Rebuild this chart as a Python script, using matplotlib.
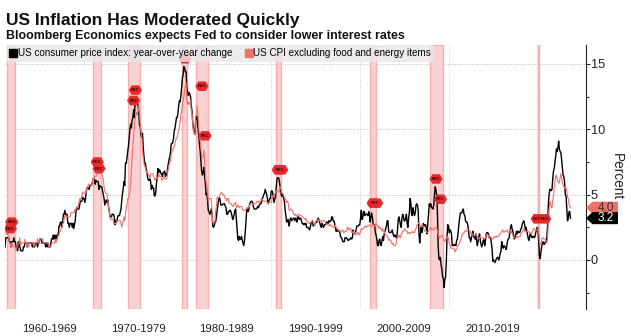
import matplotlib
matplotlib.use("Agg")
import matplotlib.pyplot as plt
import numpy as np
from matplotlib.lines import Line2D
from matplotlib.patches import Polygon
from matplotlib.path import Path

plt.rcParams['font.family'] = ['Liberation Sans', 'DejaVu Sans']

START_YEAR = 1960

# US CPI, year-over-year % change, monthly from Jan 1960
headline_cpi = [
    1.0, 1.7, 1.7, 1.7, 1.7, 1.7, 1.4, 1.4, 1.0, 1.4, 1.4, 1.4,   # 1960
    1.7, 1.4, 1.4, 1.0, 1.0, 0.7, 1.4, 1.0, 1.4, 0.7, 0.7, 0.7,   # 1961
    0.7, 1.0, 1.0, 1.3, 1.3, 1.3, 1.0, 1.3, 1.3, 1.3, 1.3, 1.3,   # 1962
    1.3, 1.0, 1.3, 1.0, 1.0, 1.3, 1.3, 1.3, 1.0, 1.3, 1.3, 1.6,   # 1963
    1.6, 1.6, 1.3, 1.3, 1.3, 1.3, 1.3, 1.0, 1.3, 1.0, 1.3, 1.0,   # 1964
    1.0, 1.0, 1.3, 1.6, 1.6, 1.9, 1.6, 1.9, 1.6, 1.9, 1.6, 1.9,   # 1965
    1.9, 2.6, 2.6, 2.9, 2.9, 2.5, 2.9, 3.5, 3.5, 3.8, 3.5, 3.5,   # 1966
    3.5, 2.8, 2.8, 2.5, 2.8, 2.8, 2.8, 2.5, 2.8, 2.4, 2.7, 3.0,   # 1967
    3.7, 4.0, 3.9, 3.9, 3.9, 4.2, 4.5, 4.5, 4.5, 4.8, 4.7, 4.7,   # 1968
    4.4, 4.7, 5.3, 5.5, 5.5, 5.5, 5.4, 5.7, 5.7, 5.7, 5.9, 6.2,   # 1969
    6.2, 6.2, 5.8, 6.1, 6.0, 6.0, 6.0, 5.4, 5.7, 5.6, 5.6, 5.6,   # 1970
    5.3, 5.0, 4.7, 4.2, 4.4, 4.6, 4.4, 4.6, 4.1, 3.8, 3.3, 3.3,   # 1971
    3.3, 3.5, 3.5, 3.5, 3.2, 2.7, 3.0, 2.9, 3.2, 3.4, 3.4, 3.4,   # 1972
    3.7, 3.9, 4.6, 5.1, 5.5, 6.0, 5.7, 7.4, 7.4, 7.8, 8.3, 8.7,   # 1973
    9.4, 10.0, 10.4, 10.1, 10.7, 10.9, 11.5, 10.9, 12.0, 12.1, 12.2, 12.3,  # 1974
    11.8, 11.2, 10.3, 10.2, 9.5, 9.4, 9.7, 8.6, 7.9, 7.4, 7.4, 6.9,  # 1975
    6.7, 6.3, 6.1, 6.1, 6.2, 6.0, 5.4, 5.7, 5.5, 5.5, 4.9, 4.9,   # 1976
    5.2, 5.9, 6.4, 7.0, 6.7, 6.9, 6.8, 6.6, 6.6, 6.4, 6.7, 6.7,   # 1977
    6.8, 6.4, 6.6, 6.5, 7.0, 7.4, 7.7, 7.9, 8.3, 8.9, 8.9, 9.0,   # 1978
    9.3, 9.9, 10.1, 10.5, 10.9, 10.9, 11.3, 11.8, 12.2, 12.1, 12.6, 13.3,  # 1979
    13.9, 14.2, 14.8, 14.7, 14.4, 14.4, 13.1, 12.9, 12.6, 12.8, 12.7, 12.5,  # 1980
    11.8, 11.4, 10.5, 10.0, 9.8, 9.6, 10.8, 10.8, 11.0, 10.1, 9.6, 8.9,  # 1981
    8.4, 7.6, 6.8, 6.5, 6.7, 7.1, 6.4, 5.9, 5.0, 5.1, 4.6, 3.8,   # 1982
    3.7, 3.5, 3.6, 3.9, 3.6, 2.6, 2.5, 2.6, 2.9, 2.9, 3.3, 3.8,   # 1983
    4.2, 4.6, 4.8, 4.6, 4.2, 4.2, 4.2, 4.3, 4.3, 4.3, 4.1, 4.0,   # 1984
    3.5, 3.5, 3.7, 3.7, 3.8, 3.8, 3.6, 3.4, 3.1, 3.2, 3.5, 3.8,   # 1985
    3.9, 3.1, 2.3, 1.6, 1.5, 1.8, 1.6, 1.6, 1.8, 1.5, 1.3, 1.1,   # 1986
    1.5, 2.1, 3.0, 3.8, 3.9, 3.7, 3.9, 4.3, 4.4, 4.5, 4.5, 4.4,   # 1987
    4.1, 3.9, 3.9, 3.9, 3.9, 4.0, 4.1, 4.0, 4.2, 4.3, 4.3, 4.4,   # 1988
    4.7, 4.8, 5.0, 5.1, 5.4, 5.2, 5.0, 4.7, 4.3, 4.5, 4.7, 4.7,   # 1989
    5.2, 5.3, 5.2, 4.7, 4.4, 4.7, 4.8, 5.6, 6.2, 6.3, 6.3, 6.1,   # 1990
    5.7, 5.3, 4.9, 4.9, 5.0, 4.7, 4.5, 3.8, 3.4, 2.9, 3.0, 3.1,   # 1991
    2.6, 2.8, 3.2, 3.2, 3.0, 3.1, 3.2, 3.2, 3.0, 3.2, 3.1, 2.9,   # 1992
    3.3, 3.3, 3.1, 3.2, 3.2, 3.0, 2.8, 2.8, 2.7, 2.8, 2.7, 2.8,   # 1993
    2.5, 2.5, 2.5, 2.4, 2.3, 2.5, 2.8, 2.9, 3.0, 2.6, 2.7, 2.7,   # 1994
    2.8, 2.9, 2.9, 3.1, 3.2, 3.0, 2.8, 2.6, 2.5, 2.8, 2.6, 2.5,   # 1995
    2.7, 2.7, 2.8, 2.9, 2.9, 2.8, 3.0, 2.9, 3.0, 3.0, 3.3, 3.3,   # 1996
    3.0, 3.0, 2.8, 2.5, 2.2, 2.3, 2.2, 2.2, 2.2, 2.1, 1.8, 1.7,   # 1997
    1.6, 1.4, 1.4, 1.4, 1.7, 1.7, 1.7, 1.6, 1.5, 1.5, 1.6, 1.6,   # 1998
    1.7, 1.6, 1.7, 2.3, 2.1, 2.0, 2.1, 2.3, 2.6, 2.6, 2.6, 2.7,   # 1999
    2.7, 3.2, 3.8, 3.1, 3.2, 3.7, 3.7, 3.4, 3.5, 3.5, 3.5, 3.4,   # 2000
    3.7, 3.5, 2.9, 3.3, 3.6, 3.3, 2.7, 2.7, 2.7, 2.1, 1.9, 1.6,   # 2001
    1.1, 1.1, 1.5, 1.6, 1.2, 1.1, 1.5, 1.8, 1.5, 2.0, 2.2, 2.4,   # 2002
    2.6, 3.0, 3.0, 2.2, 2.1, 2.1, 2.1, 2.2, 2.3, 2.0, 1.8, 1.9,   # 2003
    1.9, 1.7, 1.7, 2.3, 3.1, 3.3, 3.0, 2.7, 2.5, 3.2, 3.5, 3.3,   # 2004
    3.0, 3.0, 3.2, 3.5, 2.8, 2.5, 3.2, 3.6, 4.7, 4.4, 3.5, 3.4,   # 2005
    4.0, 3.6, 3.4, 3.6, 4.2, 4.3, 4.2, 3.8, 2.1, 1.3, 2.0, 2.5,   # 2006
    2.1, 2.4, 2.8, 2.6, 2.7, 2.7, 2.4, 2.0, 2.8, 3.5, 4.3, 4.1,   # 2007
    4.3, 4.0, 4.0, 3.9, 4.2, 5.0, 5.6, 5.4, 4.9, 3.7, 1.1, 0.1,   # 2008
    0.0, 0.2, -0.4, -0.7, -1.3, -1.4, -2.1, -1.5, -1.3, -0.2, 1.8, 2.7,  # 2009
    2.6, 2.1, 2.3, 2.2, 2.0, 1.1, 1.2, 1.1, 1.1, 1.2, 1.1, 1.5,   # 2010
    1.6, 2.1, 2.7, 3.2, 3.6, 3.6, 3.6, 3.8, 3.9, 3.5, 3.4, 3.0,   # 2011
    2.9, 2.9, 2.7, 2.3, 1.7, 1.7, 1.4, 1.7, 2.0, 2.2, 1.8, 1.7,   # 2012
    1.6, 2.0, 1.5, 1.1, 1.4, 1.8, 2.0, 1.5, 1.2, 1.0, 1.2, 1.5,   # 2013
    1.6, 1.1, 1.5, 2.0, 2.1, 2.1, 2.0, 1.7, 1.7, 1.7, 1.3, 0.8,   # 2014
    -0.1, 0.0, -0.1, -0.2, 0.0, 0.1, 0.2, 0.2, 0.0, 0.2, 0.5, 0.7,  # 2015
    1.4, 1.0, 0.9, 1.1, 1.0, 1.0, 0.8, 1.1, 1.5, 1.6, 1.7, 2.1,   # 2016
    2.5, 2.7, 2.4, 2.2, 1.9, 1.6, 1.7, 1.9, 2.2, 2.0, 2.2, 2.1,   # 2017
    2.1, 2.2, 2.4, 2.5, 2.8, 2.9, 3.0, 2.7, 2.3, 2.5, 2.2, 1.9,   # 2018
    1.6, 1.5, 1.9, 2.0, 1.8, 1.7, 1.8, 1.8, 1.7, 1.8, 2.1, 2.3,   # 2019
    2.5, 2.3, 1.5, 0.3, 0.1, 0.6, 1.0, 1.3, 1.4, 1.2, 1.2, 1.4,   # 2020
    1.4, 1.7, 2.6, 4.2, 5.0, 5.4, 5.4, 5.3, 5.4, 6.2, 6.8, 7.0,   # 2021
    7.5, 7.9, 8.5, 8.3, 8.6, 9.1, 8.5, 8.3, 8.2, 7.7, 7.1, 6.5,   # 2022
    6.4, 6.0, 5.0, 4.9, 4.0, 3.0, 3.2, 3.7, 3.7, 3.2,             # 2023
]

# US CPI excluding food and energy, year-over-year % change, monthly from Jan 1960
core_cpi = [
    2.0, 2.0, 2.0, 2.0, 2.0, 1.7, 1.3, 1.3, 1.0, 1.3, 1.3, 1.0,   # 1960
    1.0, 1.0, 1.0, 0.7, 1.0, 1.0, 1.3, 1.3, 1.7, 1.0, 1.3, 1.3,   # 1961
    1.3, 1.3, 1.3, 1.6, 1.3, 1.3, 1.0, 1.3, 1.0, 1.3, 1.3, 1.3,   # 1962
    1.3, 1.3, 1.3, 1.0, 1.3, 1.3, 1.3, 1.3, 1.6, 1.3, 1.3, 1.6,   # 1963
    1.6, 1.6, 1.6, 1.6, 1.3, 1.3, 1.3, 1.3, 1.3, 1.3, 1.3, 1.0,   # 1964
    1.0, 1.0, 1.0, 1.3, 1.3, 1.3, 1.3, 1.3, 1.6, 1.3, 1.6, 1.6,   # 1965
    1.9, 1.9, 2.2, 2.2, 2.5, 2.5, 2.8, 2.8, 3.1, 3.4, 3.4, 3.3,   # 1966
    3.3, 3.3, 3.3, 3.3, 3.3, 3.6, 3.6, 3.6, 3.6, 3.6, 3.8, 3.9,   # 1967
    3.9, 3.9, 4.1, 4.1, 4.4, 4.7, 4.7, 4.6, 4.9, 5.2, 5.1, 5.1,   # 1968
    5.1, 5.1, 5.3, 5.6, 5.6, 5.8, 5.8, 5.8, 5.7, 5.7, 5.9, 6.2,   # 1969
    6.1, 6.4, 6.4, 6.4, 6.6, 6.6, 6.6, 6.6, 6.9, 6.8, 6.6, 6.6,   # 1970
    6.4, 6.1, 5.6, 5.3, 5.1, 5.1, 5.1, 4.6, 4.1, 3.8, 3.3, 3.1,   # 1971
    3.1, 3.1, 3.1, 2.8, 2.8, 2.8, 2.8, 3.0, 3.0, 3.0, 3.0, 3.0,   # 1972
    3.0, 2.8, 2.5, 2.8, 3.0, 3.3, 3.0, 3.5, 4.0, 4.2, 4.7, 4.7,   # 1973
    5.0, 5.3, 5.9, 7.0, 7.9, 8.7, 9.5, 10.2, 10.8, 11.1, 11.3, 11.1,  # 1974
    11.4, 11.8, 11.3, 10.3, 9.8, 9.4, 8.5, 7.8, 7.4, 7.2, 7.0, 6.7,  # 1975
    6.8, 6.7, 6.5, 6.5, 6.3, 6.5, 6.6, 6.6, 6.6, 6.4, 6.3, 6.1,   # 1976
    6.2, 6.3, 6.3, 6.3, 6.6, 6.4, 6.4, 6.4, 6.1, 6.1, 6.3, 6.4,   # 1977
    6.2, 6.2, 6.2, 6.2, 6.7, 7.0, 7.3, 7.4, 7.6, 8.1, 8.3, 8.5,   # 1978
    8.5, 8.7, 8.9, 9.2, 9.3, 9.4, 9.7, 9.9, 10.2, 10.6, 11.2, 11.3,  # 1979
    12.0, 12.1, 12.5, 13.0, 13.3, 13.6, 12.2, 11.9, 12.1, 11.9, 12.0, 12.2,  # 1980
    11.4, 11.2, 10.5, 9.8, 9.6, 9.6, 11.0, 11.2, 11.8, 11.0, 10.2, 9.5,  # 1981
    9.2, 8.6, 7.9, 7.8, 7.9, 8.4, 7.6, 6.9, 5.9, 5.8, 5.3, 4.5,   # 1982
    4.7, 4.7, 4.7, 4.7, 3.9, 2.9, 2.8, 2.9, 2.9, 3.8, 4.1, 4.8,   # 1983
    4.7, 4.8, 4.8, 5.0, 5.1, 5.2, 5.0, 5.0, 5.0, 4.8, 4.7, 4.7,   # 1984
    4.5, 4.7, 4.7, 4.4, 4.4, 4.3, 4.3, 4.2, 4.1, 4.1, 4.3, 4.3,   # 1985
    4.4, 4.0, 4.1, 4.2, 4.1, 4.0, 4.1, 4.1, 4.1, 3.9, 3.8, 3.8,   # 1986
    3.8, 3.8, 3.9, 4.0, 4.0, 4.0, 4.0, 4.2, 4.3, 4.3, 4.3, 4.2,   # 1987
    4.3, 4.3, 4.3, 4.3, 4.4, 4.5, 4.5, 4.4, 4.5, 4.4, 4.5, 4.7,   # 1988
    4.6, 4.6, 4.5, 4.5, 4.5, 4.5, 4.5, 4.3, 4.3, 4.4, 4.4, 4.4,   # 1989
    4.4, 4.6, 4.9, 4.9, 4.8, 5.0, 5.2, 5.3, 5.3, 5.3, 5.2, 5.2,   # 1990
    5.6, 5.6, 5.2, 5.1, 5.1, 4.9, 4.8, 4.7, 4.6, 4.4, 4.5, 4.4,   # 1991
    3.9, 3.8, 3.9, 3.9, 3.8, 3.8, 3.6, 3.5, 3.4, 3.5, 3.4, 3.3,   # 1992
    3.5, 3.5, 3.4, 3.4, 3.4, 3.4, 3.3, 3.3, 3.2, 3.2, 3.1, 3.2,   # 1993
    3.0, 2.9, 2.9, 2.8, 2.8, 2.9, 2.9, 2.9, 3.0, 2.9, 2.8, 2.6,   # 1994
    2.9, 3.0, 3.0, 3.0, 3.1, 3.0, 3.0, 3.0, 2.9, 3.0, 3.0, 3.0,   # 1995
    3.0, 2.9, 2.8, 2.7, 2.7, 2.7, 2.7, 2.6, 2.7, 2.6, 2.6, 2.6,   # 1996
    2.5, 2.5, 2.5, 2.7, 2.5, 2.4, 2.4, 2.3, 2.2, 2.3, 2.2, 2.2,   # 1997
    2.2, 2.3, 2.1, 2.1, 2.2, 2.2, 2.2, 2.5, 2.5, 2.3, 2.3, 2.4,   # 1998
    2.4, 2.1, 2.1, 2.2, 2.0, 2.1, 2.1, 1.9, 2.0, 2.1, 2.1, 1.9,   # 1999
    2.0, 2.2, 2.4, 2.3, 2.4, 2.4, 2.5, 2.6, 2.6, 2.5, 2.6, 2.6,   # 2000
    2.6, 2.7, 2.7, 2.6, 2.5, 2.7, 2.7, 2.7, 2.6, 2.6, 2.8, 2.7,   # 2001
    2.6, 2.6, 2.4, 2.5, 2.5, 2.3, 2.2, 2.4, 2.2, 2.2, 2.0, 1.9,   # 2002
    1.9, 1.8, 1.7, 1.5, 1.6, 1.5, 1.5, 1.3, 1.2, 1.3, 1.1, 1.1,   # 2003
    1.1, 1.2, 1.6, 1.8, 1.7, 1.9, 1.8, 1.7, 2.0, 2.0, 2.2, 2.2,   # 2004
    2.3, 2.4, 2.3, 2.2, 2.2, 2.0, 2.1, 2.1, 2.0, 2.1, 2.1, 2.2,   # 2005
    2.1, 2.1, 2.1, 2.3, 2.4, 2.6, 2.7, 2.8, 2.9, 2.7, 2.6, 2.6,   # 2006
    2.7, 2.7, 2.5, 2.3, 2.2, 2.2, 2.2, 2.1, 2.1, 2.2, 2.3, 2.4,   # 2007
    2.5, 2.3, 2.4, 2.3, 2.3, 2.4, 2.5, 2.5, 2.5, 2.2, 2.0, 1.8,   # 2008
    1.7, 1.8, 1.8, 1.9, 1.8, 1.7, 1.5, 1.4, 1.5, 1.7, 1.7, 1.8,   # 2009
    1.6, 1.3, 1.1, 0.9, 0.9, 0.9, 0.9, 0.9, 0.8, 0.6, 0.8, 0.8,   # 2010
    1.0, 1.1, 1.2, 1.3, 1.5, 1.6, 1.8, 2.0, 2.0, 2.1, 2.2, 2.2,   # 2011
    2.3, 2.2, 2.3, 2.3, 2.3, 2.2, 2.1, 1.9, 2.0, 2.0, 1.9, 1.9,   # 2012
    1.9, 2.0, 1.9, 1.7, 1.7, 1.6, 1.7, 1.8, 1.7, 1.7, 1.7, 1.7,   # 2013
    1.6, 1.6, 1.7, 1.8, 2.0, 1.9, 1.9, 1.7, 1.7, 1.8, 1.7, 1.6,   # 2014
    1.6, 1.7, 1.8, 1.8, 1.7, 1.8, 1.8, 1.8, 1.9, 1.9, 2.0, 2.1,   # 2015
    2.2, 2.3, 2.2, 2.1, 2.2, 2.2, 2.2, 2.3, 2.2, 2.1, 2.1, 2.2,   # 2016
    2.3, 2.2, 2.0, 1.9, 1.7, 1.7, 1.7, 1.7, 1.7, 1.8, 1.7, 1.8,   # 2017
    1.8, 1.8, 2.1, 2.1, 2.2, 2.3, 2.4, 2.2, 2.2, 2.1, 2.2, 2.2,   # 2018
    2.2, 2.1, 2.0, 2.1, 2.0, 2.1, 2.2, 2.4, 2.4, 2.3, 2.3, 2.3,   # 2019
    2.3, 2.4, 2.1, 1.4, 1.2, 1.2, 1.6, 1.7, 1.7, 1.6, 1.6, 1.6,   # 2020
    1.4, 1.3, 1.6, 3.0, 3.8, 4.5, 4.3, 4.0, 4.0, 4.6, 4.9, 5.5,   # 2021
    6.0, 6.4, 6.5, 6.2, 6.0, 5.9, 5.9, 6.3, 6.6, 6.3, 6.0, 5.7,   # 2022
    5.6, 5.5, 5.6, 5.5, 5.3, 4.8, 4.7, 4.3, 4.1, 4.0,             # 2023
]

# NBER recessions (start, end) as decimal years
recession_periods = [
    (1960.25, 1961.08), (1969.92, 1970.83), (1973.83, 1975.17),
    (1980.0, 1980.5), (1981.5, 1982.83), (1990.5, 1991.17),
    (2001.17, 2001.83), (2007.92, 2009.42), (2020.08, 2020.25),
]

# "REC" event flags: each group of dates shares one level and one label
rec_flag_dates = [(1960.75,), (1960.6,), (1970.4,), (1970.6,), (1974.7,), (1974.5,),
                  (1980.3,), (1982.2,), (1982.55,), (1990.8, 1991.2),
                  (2001.5, 2001.9), (2008.6,), (2009.1,), (2020.0,), (2020.85,)]
rec_flag_levels = [2.9, 2.4, 7.5, 7.0, 13.0, 12.2,
                   15.4, 13.3, 9.5, 6.9,
                   4.35, 6.2, 4.65, 3.15, 3.15]

decade_labels = ["1960-1969", "1970-1979", "1980-1989", "1990-1999",
                 "2000-2009", "2010-2019"]
series_names = ["US consumer price index: year-over-year change",
                "US CPI excluding food and energy items"]

BLACK = "#000000"
SALMON = "#f0706b"
REC_RED = "#e8282b"

W, H = 631, 336
fig = plt.figure(figsize=(W / 100, H / 100), dpi=100)
ax = fig.add_axes([5 / W, 27 / H, 581 / W, 264 / H])

t_head = START_YEAR + np.arange(len(headline_cpi)) / 12.0
t_core = START_YEAR + np.arange(len(core_cpi)) / 12.0

for a, b in recession_periods:
    ax.axvspan(a, b, facecolor="#fbd0d0", edgecolor="#f5b0b0", lw=1.0, zorder=1)

ax.plot(t_head, headline_cpi, color=BLACK, lw=1.0, zorder=3)
ax.plot(t_core, core_cpi, color=SALMON, lw=0.8, zorder=4)

ax.set_xlim(1960.0, 2025.5)
ax.set_ylim(-3.75, 16.45)

# legend (semi-transparent, drawn above the flags)
handles = [Line2D([], [], ls="none", marker="s", ms=5.5, color=BLACK),
           Line2D([], [], ls="none", marker="s", ms=5.5, color=SALMON)]
leg = ax.legend(handles, series_names, loc="upper left", bbox_to_anchor=(0.003, 1.0),
                ncol=2, fontsize=7.1, frameon=True, fancybox=False,
                facecolor="#e8e8e8", edgecolor="none", framealpha=0.82,
                borderpad=0.35, handlelength=0.6, handletextpad=0.15,
                columnspacing=1.4, borderaxespad=0.0)
leg.set_zorder(10)

# event flags; a label is only written when the flag sits below the legend box
fig.canvas.draw()
leg_bottom = ax.transData.inverted().transform(
    (0, leg.get_window_extent().y0))[1]
hexv = [(-1, 0), (-0.55, 0.72), (0.55, 0.72), (1, 0), (0.55, -0.72), (-0.55, -0.72), (-1, 0)]
hex_marker = Path(hexv)
for dates, v in zip(rec_flag_dates, rec_flag_levels):
    ax.scatter(dates, [v] * len(dates), marker=hex_marker, s=9.5 ** 2,
               color=REC_RED, edgecolors="none", zorder=5)
    if v + 0.35 < leg_bottom:
        ax.text(float(np.mean(dates)), v, "REC", fontsize=3.0, fontweight="bold",
                color="#2a0000", ha="center", va="center", zorder=6)

# axes styling
for s in ("left", "top", "bottom"):
    ax.spines[s].set_visible(False)
ax.spines["right"].set_color("#222222")
ax.spines["right"].set_linewidth(0.8)

ax.yaxis.tick_right()
ax.set_yticks([0, 5, 10, 15])
ax.set_yticks([-2.5, 2.5, 7.5, 12.5], minor=True)
ax.tick_params(axis="y", which="major", length=3, width=0.8, pad=0.5,
               labelsize=9.2, colors="#222222")
ax.tick_params(axis="y", which="minor", length=2, width=0.8, colors="#222222")

ax.set_xticks(list(range(1970, 2030, 10)))
ax.set_xticklabels([])
ax.set_xticks([1965 + 10 * i for i in range(len(decade_labels))], minor=True)
ax.set_xticklabels(decade_labels, minor=True)
ax.tick_params(axis="x", which="both", length=0, pad=11, labelsize=8.2,
               labelcolor="#222222")

ax.grid(axis="y", which="major", ls=(0, (1, 1.5)), color="#bdbdbd", lw=0.7, zorder=0)
ax.grid(axis="x", which="major", ls=(0, (1, 1.5)), color="#cfcfcf", lw=0.7, zorder=0)
ax.set_axisbelow(True)

# last-value tags on the right axis
ytrans = ax.get_yaxis_transform()
for vals, fc, tc in ((core_cpi, SALMON, "#333333"), (headline_cpi, BLACK, "#ffffff")):
    v = vals[-1]
    hh = 0.46
    tag = Polygon([(1.0, v), (1.011, v + hh), (1.055, v + hh), (1.055, v - hh),
                   (1.011, v - hh)], closed=True, transform=ytrans,
                  facecolor=fc, edgecolor="none", clip_on=False, zorder=20)
    ax.add_patch(tag)
    ax.text(1.034, v, f"{v:.1f}", transform=ytrans, ha="center", va="center",
            fontsize=8.5, color=tc, clip_on=False, zorder=21)

fig.text(617 / W, 1 - 177 / H, "Percent", rotation=270, ha="center", va="center",
         fontsize=9.8, color="#222222")

fig.text(6 / W, 1 - 25 / H, "US Inflation Has Moderated Quickly", fontsize=12.5,
         fontweight="bold", color="#111111", va="baseline", ha="left")
fig.text(6 / W, 1 - 38.5 / H,
         "Bloomberg Economics expects Fed to consider lower interest rates",
         fontsize=8.9, fontweight="bold", color="#111111", va="baseline", ha="left")

fig.savefig("out.png", dpi=100)
